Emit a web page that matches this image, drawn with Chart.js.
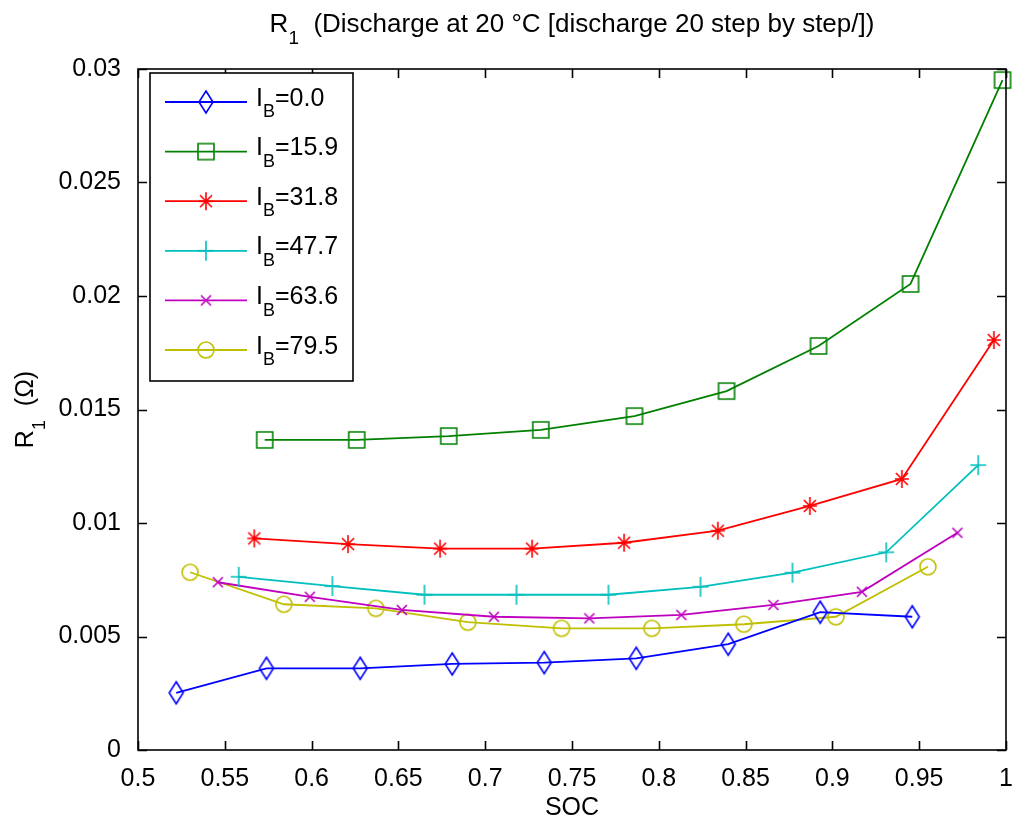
<!DOCTYPE html>
<html>
<head>
<meta charset="utf-8">
<script src="https://cdn.jsdelivr.net/npm/chart.js@4.4.0/dist/chart.umd.min.js"></script>
<style>
html, body { margin: 0; padding: 0; background: #fff; }
#wrap { width: 1013px; height: 821px; }
</style>
</head>
<body>
<div id="wrap"><canvas id="myCanvas"></canvas></div>
<script>
// currents for the legend (I_B)
var currents = ['0.0', '15.9', '31.8', '47.7', '63.6', '79.5'];

// SOC / R1 values
var soc0  = [0.522, 0.574, 0.628, 0.681, 0.734, 0.787, 0.840, 0.893, 0.946];
var r1_0  = [0.00252, 0.00360, 0.00360, 0.00379, 0.00385, 0.00404, 0.00466, 0.00607, 0.00587];

var soc16 = [0.573, 0.626, 0.679, 0.732, 0.786, 0.839, 0.892, 0.945, 0.998];
var r1_16 = [0.01366, 0.01366, 0.01383, 0.01410, 0.01471, 0.01581, 0.01780, 0.02053, 0.02951];

var soc32 = [0.567, 0.621, 0.674, 0.727, 0.780, 0.834, 0.887, 0.940, 0.993];
var r1_32 = [0.00932, 0.00907, 0.00887, 0.00887, 0.00913, 0.00966, 0.01075, 0.01194, 0.01806];

var soc48 = [0.558, 0.612, 0.665, 0.718, 0.771, 0.824, 0.877, 0.931, 0.984];
var r1_48 = [0.00763, 0.00722, 0.00684, 0.00684, 0.00684, 0.00719, 0.00781, 0.00871, 0.01255];

var soc64 = [0.546, 0.599, 0.652, 0.705, 0.760, 0.813, 0.866, 0.917, 0.972];
var r1_64 = [0.00739, 0.00675, 0.00617, 0.00587, 0.00580, 0.00595, 0.00639, 0.00697, 0.00957];

var soc80 = [0.530, 0.584, 0.637, 0.690, 0.744, 0.796, 0.849, 0.902, 0.955];
var r1_80 = [0.00783, 0.00642, 0.00624, 0.00563, 0.00536, 0.00536, 0.00554, 0.00587, 0.00807];

var xTickVals = [0.5, 0.55, 0.6, 0.65, 0.7, 0.75, 0.8, 0.85, 0.9, 0.95, 1];
var xTickLabels = ['0.5', '0.55', '0.6', '0.65', '0.7', '0.75', '0.8', '0.85', '0.9', '0.95', '1'];
var yTickVals = [0, 0.005, 0.01, 0.015, 0.02, 0.025, 0.03];
var yTickLabels = ['0', '0.005', '0.01', '0.015', '0.02', '0.025', '0.03'];

var colors = ['#0000ff', '#008000', '#ff0000', '#00bfbf', '#bf00bf', '#bfbf00'];
var FONT = '"Liberation Sans", Arial, Helvetica, sans-serif';
var FS = 25;

// MATLAB-ish hollow markers drawn on small canvases
function makeMarker(kind, color) {
    var c = document.createElement('canvas');
    c.width = 28; c.height = 28;
    var g = c.getContext('2d');
    var m = 14;
    g.strokeStyle = color;
    g.lineWidth = 1.6;
    g.beginPath();
    if (kind === 'diamond') {
        g.moveTo(m, m - 11); g.lineTo(m + 7, m); g.lineTo(m, m + 11); g.lineTo(m - 7, m); g.closePath();
    } else if (kind === 'square') {
        g.rect(m - 8, m - 8, 16, 16);
    } else if (kind === 'star') {
        g.moveTo(m, m - 9); g.lineTo(m, m + 9);
        g.moveTo(m - 7, m); g.lineTo(m + 7, m);
        g.moveTo(m - 6, m - 6); g.lineTo(m + 6, m + 6);
        g.moveTo(m - 6, m + 6); g.lineTo(m + 6, m - 6);
    } else if (kind === 'plus') {
        g.moveTo(m, m - 10); g.lineTo(m, m + 10);
        g.moveTo(m - 8, m); g.lineTo(m + 8, m);
    } else if (kind === 'x') {
        g.moveTo(m - 5, m - 5); g.lineTo(m + 5, m + 5);
        g.moveTo(m - 5, m + 5); g.lineTo(m + 5, m - 5);
    } else if (kind === 'circle') {
        g.arc(m, m, 8, 0, Math.PI * 2);
    }
    g.stroke();
    return c;
}

var markerKinds = ['diamond', 'square', 'star', 'plus', 'x', 'circle'];
var markers = markerKinds.map(function (k, i) { return makeMarker(k, colors[i]); });

var socs = [soc0, soc16, soc32, soc48, soc64, soc80];
var r1s = [r1_0, r1_16, r1_32, r1_48, r1_64, r1_80];

var datasets = [];
for (var i = 0; i < currents.length; i++) {
    var pts = [];
    for (var j = 0; j < socs[i].length; j++) {
        pts.push({ x: socs[i][j], y: r1s[i][j] });
    }
    datasets.push({
        label: 'IB=' + currents[i],
        data: pts,
        borderColor: colors[i],
        backgroundColor: colors[i],
        borderWidth: 1.8,
        pointStyle: markers[i],
        pointRadius: 10,
        tension: 0,
        clip: false
    });
}

// text with subscripts: parts = [[text, isSub], ...]
function richWidth(ctx, parts, size) {
    var w = 0;
    parts.forEach(function (p) {
        ctx.font = (p[1] ? Math.round(size * 0.72) : size) + 'px ' + FONT;
        w += ctx.measureText(p[0]).width;
    });
    return w;
}
function drawRich(ctx, parts, x, y, size, align) {
    var w = richWidth(ctx, parts, size);
    var cx = align === 'center' ? x - w / 2 : x;
    ctx.textAlign = 'left';
    ctx.textBaseline = 'alphabetic';
    parts.forEach(function (p) {
        ctx.font = (p[1] ? Math.round(size * 0.72) : size) + 'px ' + FONT;
        ctx.fillText(p[0], cx, p[1] ? y + size * 0.47 : y);
        cx += ctx.measureText(p[0]).width;
    });
}

var decor = {
    id: 'decor',
    afterDraw: function (chart) {
        var ctx = chart.ctx;
        var a = chart.chartArea;
        var xs = chart.scales.x, ys = chart.scales.y;
        ctx.save();
        ctx.strokeStyle = '#000';
        ctx.fillStyle = '#000';
        ctx.lineWidth = 1.6;
        ctx.strokeRect(a.left, a.top, a.right - a.left, a.bottom - a.top);
        ctx.beginPath();
        xTickVals.forEach(function (v) {
            var px = Math.round(xs.getPixelForValue(v)) + 0.5;
            ctx.moveTo(px, a.bottom); ctx.lineTo(px, a.bottom - 9);
            ctx.moveTo(px, a.top); ctx.lineTo(px, a.top + 9);
        });
        yTickVals.forEach(function (v) {
            var py = Math.round(ys.getPixelForValue(v)) + 0.5;
            ctx.moveTo(a.left, py); ctx.lineTo(a.left + 9, py);
            ctx.moveTo(a.right, py); ctx.lineTo(a.right - 9, py);
        });
        ctx.stroke();

        // title
        var midX = (a.left + a.right) / 2;
        drawRich(ctx, [['R', false], ['1', true], ['  (Discharge at 20 \u00B0C [discharge 20 step by step/])', false]], midX, 32, 26, 'center');
        // x label
        drawRich(ctx, [['SOC', false]], midX, 815, FS, 'center');
        // y label
        ctx.save();
        ctx.translate(33, (a.top + a.bottom) / 2);
        ctx.rotate(-Math.PI / 2);
        drawRich(ctx, [['R', false], ['1', true], ['  (\u03A9)', false]], 0, 0, FS, 'center');
        ctx.restore();

        // legend box
        ctx.fillStyle = '#fff';
        ctx.fillRect(150, 73, 203, 308);
        ctx.strokeStyle = '#000';
        ctx.strokeRect(150, 73, 203, 308);
        ctx.fillStyle = '#000';
        for (var k = 0; k < currents.length; k++) {
            var ly = 102 + k * 49.6;
            ctx.strokeStyle = colors[k];
            ctx.lineWidth = 1.8;
            ctx.beginPath();
            ctx.moveTo(165, ly); ctx.lineTo(247, ly);
            ctx.stroke();
            ctx.drawImage(markers[k], 206 - 14, ly - 14);
            drawRich(ctx, [['I', false], ['B', true], ['=' + currents[k], false]], 256, ly + 3.5, FS, 'left');
        }
        ctx.restore();
    }
};

var ctx = document.getElementById('myCanvas');
var chart = new Chart(ctx, {
    type: 'line',
    data: { datasets: datasets },
    options: {
        responsive: true,
        maintainAspectRatio: false,
        animation: false,
        layout: { autoPadding: false, padding: { left: 0, right: 7, top: 69, bottom: 0 } },
        plugins: { legend: { display: false }, tooltip: { enabled: false } },
        scales: {
            x: {
                type: 'linear',
                min: 0.5, max: 1,
                grid: { display: false },
                border: { display: false },
                afterBuildTicks: function (s) { s.ticks = xTickVals.map(function (v) { return { value: v }; }); },
                afterFit: function (s) { s.height = 71; s.paddingLeft = 0; s.paddingRight = 0; },
                ticks: {
                    padding: 6,
                    color: '#000',
                    maxRotation: 0,
                    autoSkip: false,
                    font: { family: FONT, size: FS },
                    callback: function (v, idx) { return xTickLabels[idx]; }
                }
            },
            y: {
                type: 'linear',
                min: 0, max: 0.03,
                grid: { display: false },
                border: { display: false },
                afterBuildTicks: function (s) { s.ticks = yTickVals.map(function (v) { return { value: v }; }); },
                afterFit: function (s) { s.width = 138; },
                ticks: {
                    padding: 9,
                    color: '#000',
                    autoSkip: false,
                    font: { family: FONT, size: FS },
                    callback: function (v, idx) { return yTickLabels[idx]; }
                }
            }
        }
    },
    plugins: [decor]
});
</script>
</body>
</html>
